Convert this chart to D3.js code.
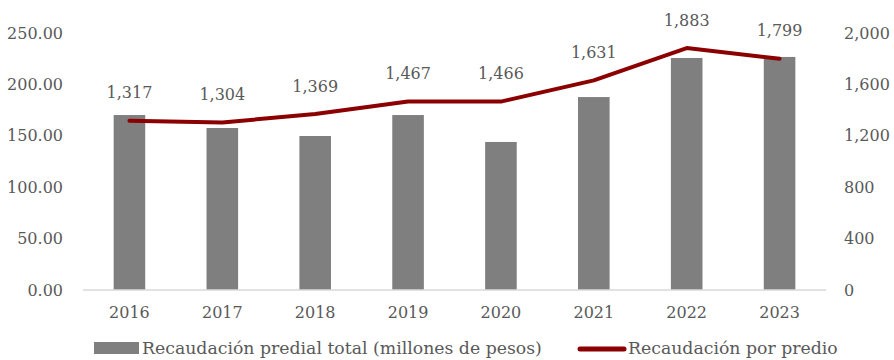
<!DOCTYPE html>
<html>
<head>
<meta charset="utf-8">
<script src="https://cdn.jsdelivr.net/npm/d3@7/dist/d3.min.js"></script>
<style>
  html, body { margin: 0; padding: 0; background: #fff; }
  svg { display: block; }
  text { font-family: "Palatino Linotype", "Book Antiqua", Palatino, "DejaVu Serif", serif; fill: #595959; }
</style>
</head>
<body>
<svg id="chart" width="894" height="360"></svg>
<script>
const years = ["2016", "2017", "2018", "2019", "2020", "2021", "2022", "2023"];
const recaudacionTotal = [170.2, 157.6, 149.8, 170.2, 144.0, 187.7, 225.7, 226.7];
const recaudacionPorPredio = [1317, 1304, 1369, 1467, 1466, 1631, 1883, 1799];
const leftTicks = [0, 50, 100, 150, 200, 250];
const rightTicks = [0, 400, 800, 1200, 1600, 2000];
const legendLabels = ["Recaudación predial total (millones de pesos)", "Recaudación por predio"];

const svg = d3.select("#chart");
const margin = { left: 83, right: 68, top: 33, bottom: 70 };
const W = 894, H = 360;
const fontSize = 16;
const legendFontSize = 17.3;

const x = d3.scaleBand().domain(years).range([margin.left, W - margin.right]).paddingInner(0.66).paddingOuter(0.33);
const yL = d3.scaleLinear().domain([0, 250]).range([H - margin.bottom, margin.top]);
const yR = d3.scaleLinear().domain([0, 2000]).range([H - margin.bottom, margin.top]);

// Bars: total collection
svg.append("g").selectAll("rect").data(years).join("rect")
  .attr("x", d => x(d))
  .attr("width", x.bandwidth())
  .attr("y", (d, i) => yL(recaudacionTotal[i]))
  .attr("height", (d, i) => yL(0) - yL(recaudacionTotal[i]))
  .attr("fill", "#7f7f7f");

// Category baseline
svg.append("line")
  .attr("x1", margin.left).attr("x2", W - margin.right)
  .attr("y1", yL(0)).attr("y2", yL(0))
  .attr("stroke", "#d9d9d9").attr("stroke-width", 1.5);

// Left axis
const axL = svg.append("g").attr("transform", `translate(${margin.left - 20},0)`)
  .call(d3.axisLeft(yL).tickValues(leftTicks).tickFormat(d3.format(".2f")).tickSize(0).tickPadding(0));
axL.select(".domain").remove();
axL.selectAll("text").attr("font-size", fontSize).attr("font-family", null).attr("fill", "#595959");

// Right axis
const axR = svg.append("g").attr("transform", `translate(${W - 50},0)`)
  .call(d3.axisRight(yR).tickValues(rightTicks).tickFormat(d3.format(",")).tickSize(0).tickPadding(0));
axR.select(".domain").remove();
axR.selectAll("text").attr("font-size", fontSize).attr("font-family", null).attr("fill", "#595959");

// Bottom axis
const axB = svg.append("g").attr("transform", `translate(0,${yL(0)})`)
  .call(d3.axisBottom(x).tickSize(0).tickPadding(17));
axB.select(".domain").remove();
axB.selectAll("text").attr("font-size", fontSize).attr("font-family", null).attr("fill", "#595959");

// Line: per-property collection
const cx = d => x(d) + x.bandwidth() / 2;
const line = d3.line().x((d, i) => cx(years[i])).y(d => yR(d));
svg.append("path").datum(recaudacionPorPredio)
  .attr("d", line)
  .attr("fill", "none")
  .attr("stroke", "#8b0000")
  .attr("stroke-width", 4)
  .attr("stroke-linecap", "round")
  .attr("stroke-linejoin", "round");

// Value labels above line points
svg.append("g").selectAll("text").data(recaudacionPorPredio).join("text")
  .attr("x", (d, i) => cx(years[i]))
  .attr("y", d => yR(d) - 28)
  .attr("dy", "0.35em")
  .attr("text-anchor", "middle")
  .attr("font-size", fontSize)
  .text(d3.format(","));

// Legend
const lg = svg.append("g");
lg.append("rect").attr("x", 94).attr("y", 342).attr("width", 45).attr("height", 12).attr("fill", "#7f7f7f");
lg.append("text").attr("x", 142).attr("y", 348).attr("dy", "0.35em").attr("font-size", legendFontSize).text(legendLabels[0]);
lg.append("line").attr("x1", 580).attr("x2", 624).attr("y1", 349).attr("y2", 349)
  .attr("stroke", "#8b0000").attr("stroke-width", 5).attr("stroke-linecap", "round");
lg.append("text").attr("x", 628).attr("y", 348).attr("dy", "0.35em").attr("font-size", legendFontSize).text(legendLabels[1]);
</script>
</body>
</html>
